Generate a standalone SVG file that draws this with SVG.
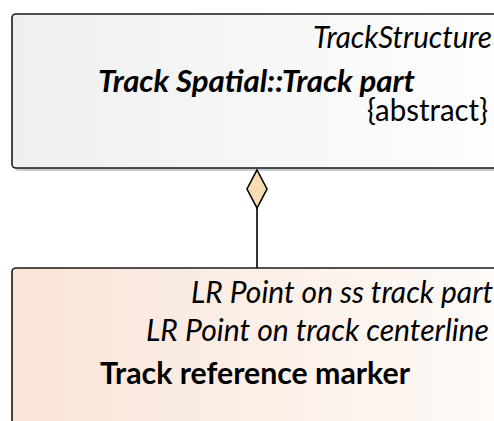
<svg xmlns="http://www.w3.org/2000/svg" width="494" height="421" viewBox="0 0 494 421">
  <defs>
    <linearGradient id="gGray" x1="0" y1="0" x2="1" y2="0">
      <stop offset="0" stop-color="#efefef"/>
      <stop offset="1" stop-color="#fefefe"/>
    </linearGradient>
    <linearGradient id="gPeach" x1="0" y1="0" x2="1" y2="0">
      <stop offset="0" stop-color="#f9e4d6"/>
      <stop offset="1" stop-color="#fefbf9"/>
    </linearGradient>
  </defs>
  <style>
    .box { stroke: #1a1a1a; stroke-width: 1.6; }
    .shadow { fill: #c9cbd2; }
    .t { font-family: Lato, "Open Sans", "Liberation Sans", sans-serif; font-size: 30px; fill: #000; }
    .it { font-style: italic; }
    .b { font-weight: bold; }
    .conn { stroke: #000; stroke-width: 1.6; fill: none; }
    .diamond { fill: #f7ddb2; stroke: #000; stroke-width: 1.6; }
  </style>
  <rect x="0" y="0" width="494" height="421" fill="#ffffff"/>

  <g id="node-track-part">
    <rect class="shadow" x="15" y="17" width="500" height="154" rx="4"/>
    <rect class="box" x="12" y="14" width="500" height="154" rx="4" fill="url(#gGray)"/>
    <text class="t it" x="492" y="48" text-anchor="end" textLength="179" lengthAdjust="spacingAndGlyphs">TrackStructure</text>
    <text class="t it b" x="98" y="92" textLength="317" lengthAdjust="spacingAndGlyphs">Track Spatial::Track part</text>
    <text class="t" x="367" y="121" textLength="121" lengthAdjust="spacingAndGlyphs">{abstract}</text>
  </g>

  <g id="node-track-reference-marker">
    <rect class="box" x="12" y="268" width="500" height="180" rx="4" fill="url(#gPeach)"/>
    <text class="t it" x="191" y="303" textLength="302" lengthAdjust="spacingAndGlyphs">LR Point on ss track part</text>
    <text class="t it" x="146" y="341" textLength="343" lengthAdjust="spacingAndGlyphs">LR Point on track centerline</text>
    <text class="t b" x="100" y="384" textLength="310" lengthAdjust="spacingAndGlyphs">Track reference marker</text>
  </g>

  <g id="connectors">
    <line class="conn" x1="257" y1="208" x2="257" y2="268"/>
    <polygon class="diamond" points="257,170 267,189 257,208 247,189"/>
  </g>
</svg>
